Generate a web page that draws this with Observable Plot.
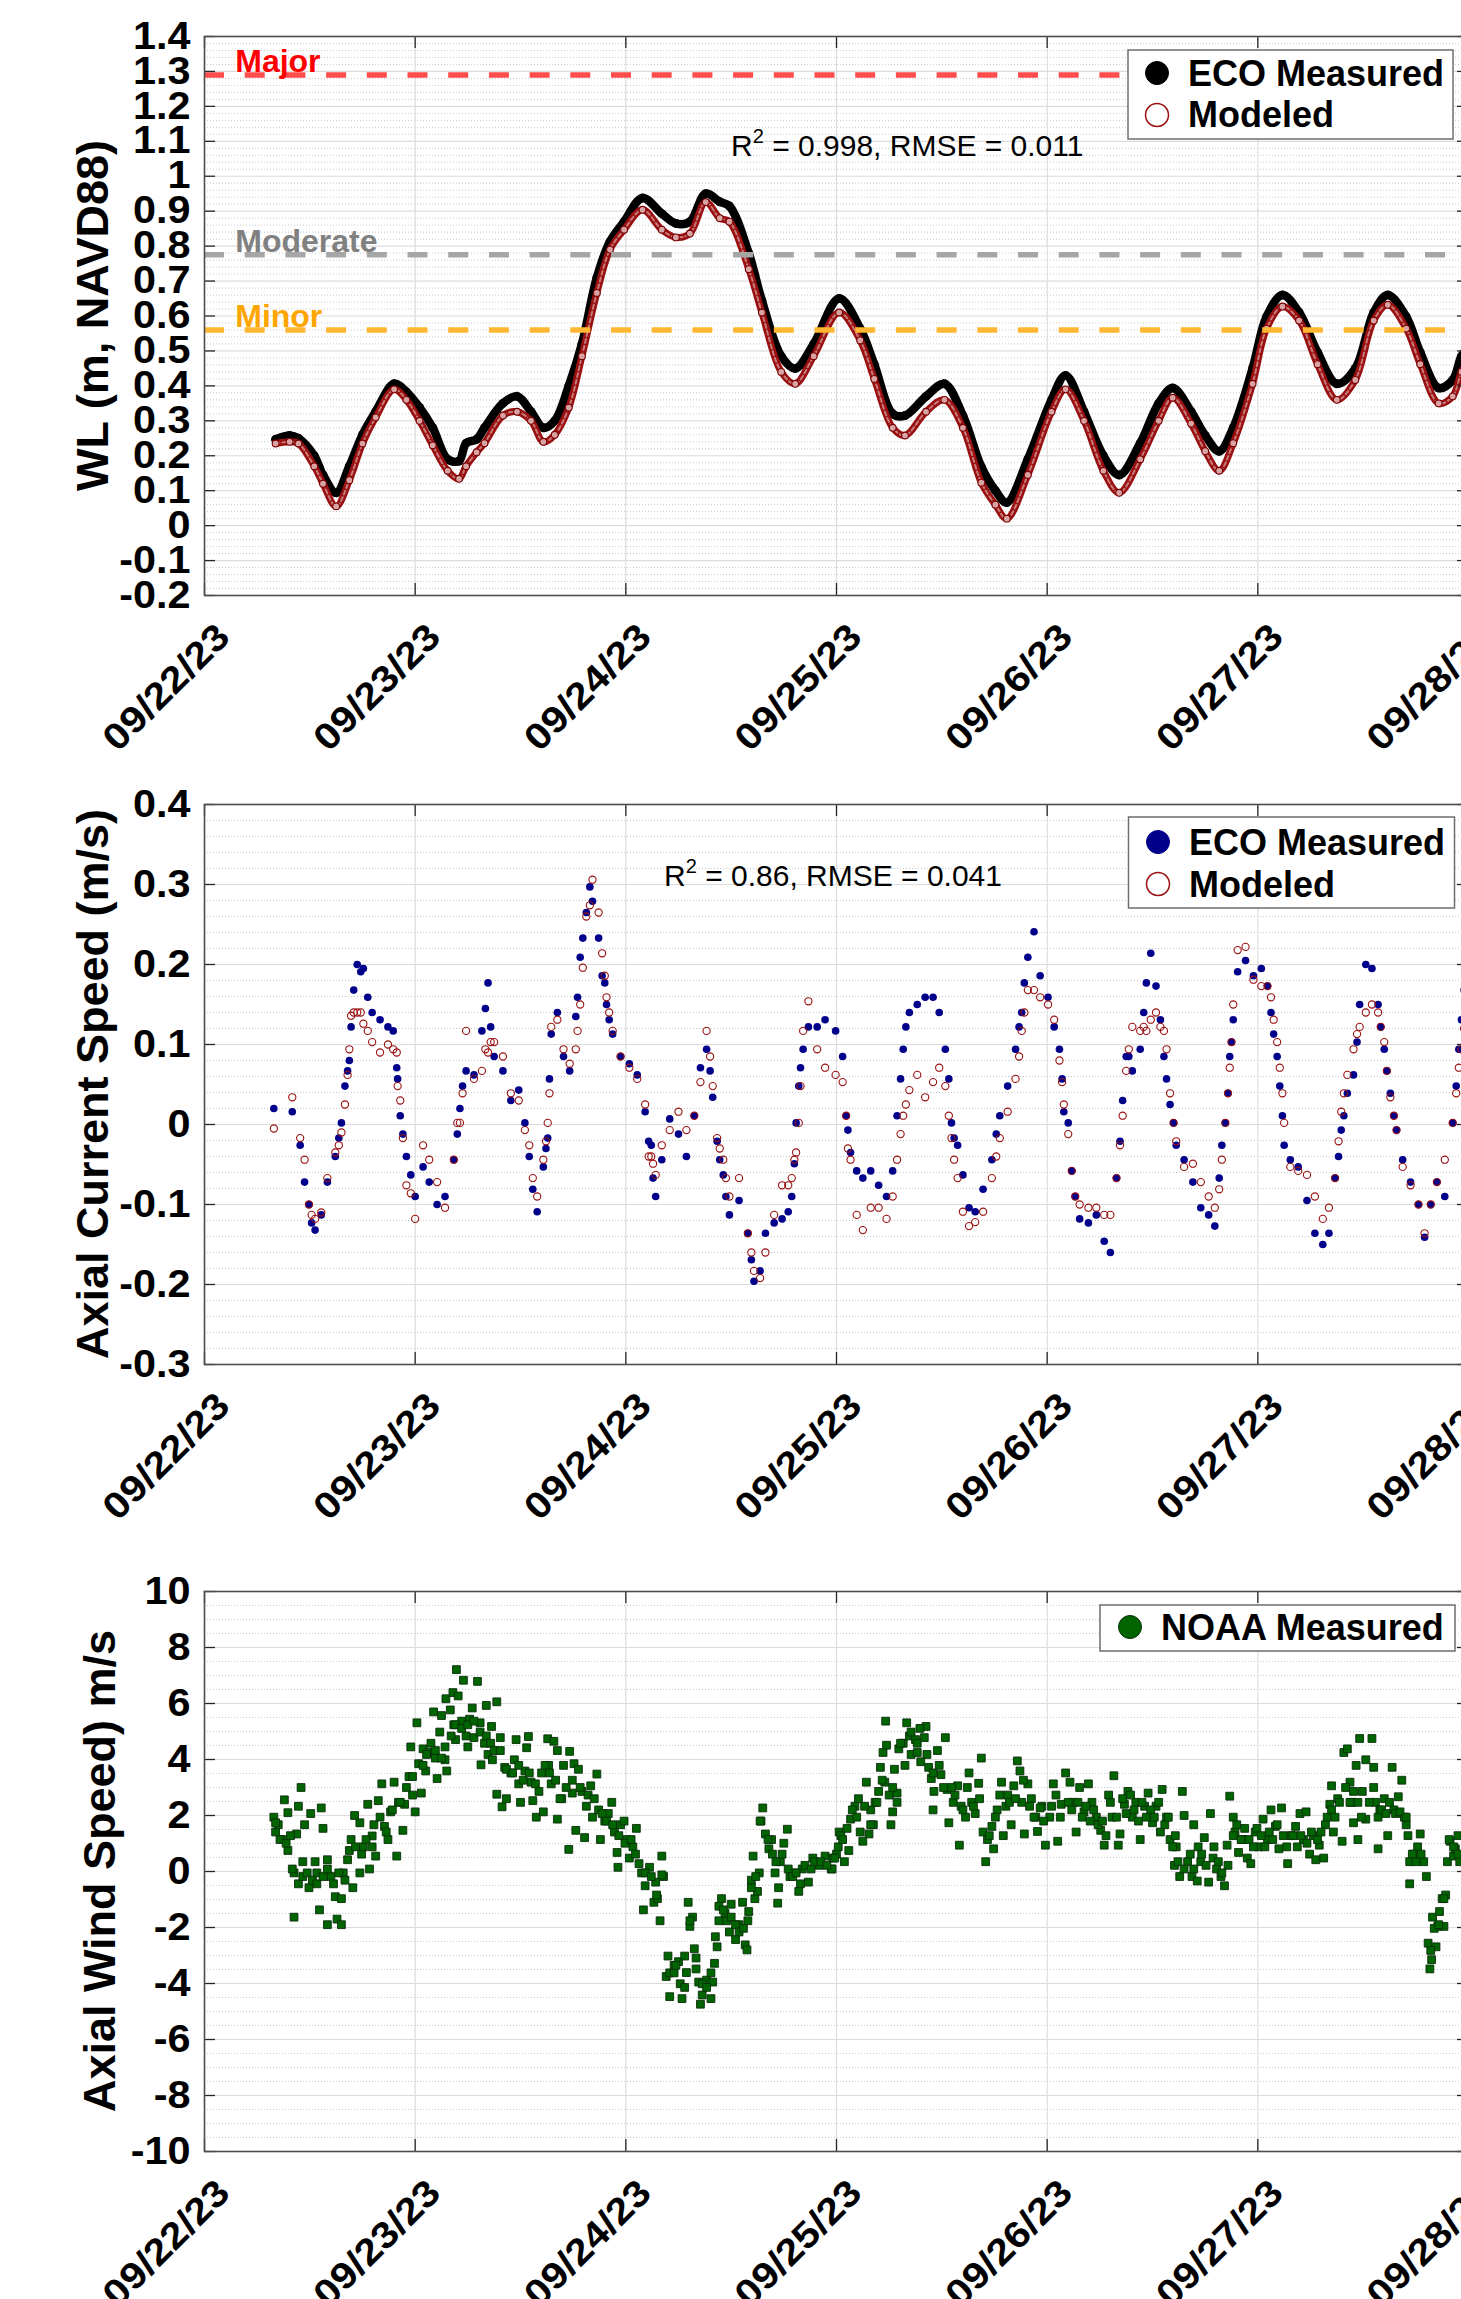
<!DOCTYPE html>
<html><head><meta charset="utf-8">
<script src="https://cdn.jsdelivr.net/npm/d3@7"></script>
<script src="https://cdn.jsdelivr.net/npm/@observablehq/plot@0.6"></script>
<style>
html,body{margin:0;padding:0;background:#fff;overflow:hidden;width:1461px;height:2299px;}
#wrap{position:relative;width:1461px;height:2299px;overflow:hidden;background:#fff;}
.panel{position:absolute;left:0;}
</style></head><body><div id="wrap"></div>
<script>
// ---------------- DATA (hours since 09/22/23 00:00) ----------------
const dayLabels = ["09/22/23","09/23/23","09/24/23","09/25/23","09/26/23","09/27/23","09/28/23"];
const wlTicks = [-0.2,-0.1,0,0.1,0.2,0.3,0.4,0.5,0.6,0.7,0.8,0.9,1,1.1,1.2,1.3,1.4];
const currentTicks = [-0.3,-0.2,-0.1,0,0.1,0.2,0.3,0.4];
const windTicks = [-10,-8,-6,-4,-2,0,2,4,6,8,10];

const thresholdNames = ["Major","Moderate","Minor"];
const thresholdLevels = [1.29, 0.775, 0.56];
const thresholdLineColors = ["#ff4d4d","#a6a6a6","#ffb733"];
const thresholdTextColors = ["#ff0000","#808080","#ffa500"];

const wlTime = [8.1,9.7,10.7,12.5,13.5,15.0,16.5,18.0,19.5,21.6,
 23.0,24.5,26.0,27.7,29.0,29.8,31.0,31.9,34.0,35.6,
 37.2,38.6,39.9,41.5,43.0,44.7,46.2,47.8,49.9,52.1,
 53.7,55.3,57.1,58.7,59.8,62.0,63.5,65.7,67.3,69.4,
 72.3,74.7,76.3,78.4,79.8,82.2,84.3,86.4,88.5,90.1,
 91.4,93.8,96.5,98.1,100.2,102.4,104.2,106.6,108.7,110.3,
 112.4,114.0,115.6,117.2,119.4,121.0,122.8,124.7,126.8,129.0,
 131.1,133.2,134.8,136.9,138.5,140.6,142.2,143.2,144.0];
const wlMeasured = [0.247,0.258,0.25,0.20,0.145,0.094,0.17,0.26,0.326,0.406,
 0.383,0.338,0.28,0.19,0.185,0.236,0.247,0.28,0.35,0.37,
 0.326,0.28,0.30,0.40,0.52,0.71,0.813,0.87,0.938,0.893,
 0.865,0.87,0.95,0.927,0.915,0.78,0.644,0.485,0.45,0.52,
 0.65,0.564,0.462,0.32,0.315,0.37,0.406,0.315,0.168,0.10,
 0.066,0.19,0.36,0.43,0.326,0.20,0.145,0.236,0.35,0.394,
 0.326,0.258,0.213,0.28,0.45,0.598,0.66,0.61,0.496,0.406,
 0.45,0.61,0.66,0.598,0.496,0.394,0.417,0.485,0.51];
const wlModeled = [0.235,0.24,0.235,0.17,0.12,0.055,0.13,0.235,0.31,0.39,
 0.36,0.30,0.23,0.157,0.134,0.17,0.21,0.236,0.315,0.326,
 0.30,0.24,0.26,0.338,0.485,0.666,0.79,0.847,0.904,0.847,
 0.825,0.836,0.926,0.88,0.87,0.734,0.61,0.44,0.406,0.485,
 0.61,0.53,0.42,0.28,0.258,0.326,0.36,0.28,0.123,0.06,
 0.02,0.145,0.326,0.39,0.30,0.157,0.094,0.19,0.30,0.366,
 0.292,0.213,0.157,0.236,0.406,0.564,0.627,0.587,0.462,0.36,
 0.417,0.587,0.632,0.564,0.462,0.35,0.37,0.44,0.47];

const curTime = [7.9,10.0,10.9,11.9,12.6,13.3,14.0,14.9,15.6,16.3,
 16.7,17.4,18.1,19.1,20.0,20.9,21.9,22.3,23.0,24.0,
 24.9,25.6,26.5,27.4,28.4,29.1,29.8,30.7,31.6,32.3,
 33.0,34.0,34.9,35.8,36.5,37.0,37.4,37.9,38.6,39.1,
 39.5,40.2,40.9,41.6,42.3,42.8,43.5,44.2,44.9,45.3,
 45.8,46.5,47.4,48.4,49.3,50.2,50.9,51.4,52.1,53.0,
 54.0,54.9,55.8,56.5,57.2,57.9,58.4,59.1,59.8,60.9,
 61.9,62.6,63.3,63.9,64.9,65.8,66.5,67.2,67.7,68.2,
 68.8,69.8,70.7,71.9,72.7,73.1,73.6,74.3,75.0,75.9,
 76.8,77.7,78.4,78.9,79.6,80.3,81.2,82.1,83.0,83.7,
 84.4,85.1,85.8,86.4,87.1,87.8,88.7,89.7,90.6,91.5,
 92.4,93.1,93.8,94.5,95.2,96.1,96.8,97.4,97.9,98.4,
 98.8,99.7,100.7,101.6,102.5,103.2,103.9,104.3,105.0,105.7,
 106.6,107.3,107.8,108.4,108.9,109.6,110.0,110.7,111.6,112.6,
 113.5,114.4,115.1,115.6,116.3,116.8,117.2,117.7,118.6,119.5,
 120.4,121.1,121.8,122.5,123.0,123.7,124.6,125.6,126.5,127.4,
 128.1,128.8,129.5,130.2,130.9,131.6,132.3,133.0,133.7,134.4,
 135.1,135.8,136.5,137.4,138.3,139.0,139.7,140.4,141.3,142.2,
 142.9,143.5,
 // additional readings
 11.4,12.2,15.3,16.0,16.5,17.0,17.8,18.6,21.5,22.0,
 22.6,23.5,28.8,29.4,32.0,32.6,38.9,39.3,42.5,43.1,
 43.9,45.6,46.1,50.6,51.1,57.6,58.7,59.4,62.3,66.9,
 67.4,67.9,73.3,79.3,79.9,84.8,85.4,90.2,92.8,93.4,
 97.7,99.2,104.6,105.3,107.0,109.3,110.4,115.9,116.6,117.0,
 121.5,122.2,122.8,129.2,129.8,131.3,134.0,134.7,135.5,142.6,
 143.2];
const curMeasured = [0.020,0.016,-0.026,-0.100,-0.132,-0.113,-0.072,-0.040,0.002,0.067,
 0.122,0.200,0.195,0.140,0.131,0.122,0.071,0.011,-0.040,-0.090,
 -0.053,-0.072,-0.100,-0.090,-0.044,0.020,0.067,0.062,0.117,0.177,
 0.085,0.067,0.030,0.043,0.002,-0.040,-0.081,-0.109,-0.053,-0.017,
 0.113,0.140,0.085,0.067,0.135,0.209,0.265,0.279,0.233,0.186,
 0.150,0.113,0.085,0.076,0.062,0.016,-0.026,-0.090,-0.044,0.007,
 -0.012,-0.040,0.011,0.071,0.094,0.034,-0.021,-0.063,-0.113,-0.095,
 -0.136,-0.196,-0.183,-0.136,-0.123,-0.118,-0.109,-0.049,0.048,0.094,
 0.122,0.122,0.131,0.117,0.085,0.011,-0.035,-0.058,-0.067,-0.058,
 -0.076,-0.090,-0.058,0.011,0.094,0.140,0.150,0.159,0.159,0.140,
 0.094,0.002,-0.026,-0.063,-0.104,-0.109,-0.081,-0.044,0.011,0.048,
 0.094,0.140,0.209,0.241,0.186,0.159,0.122,0.094,0.016,0.002,
 -0.058,-0.118,-0.123,-0.113,-0.146,-0.160,-0.067,-0.021,0.085,0.067,
 0.094,0.177,0.214,0.173,0.131,0.057,0.025,-0.026,-0.044,-0.072,
 -0.104,-0.113,-0.127,-0.067,0.002,0.085,0.131,0.191,0.205,0.186,
 0.195,0.173,0.113,0.048,-0.026,-0.044,-0.053,-0.095,-0.136,-0.150,
 -0.136,-0.067,-0.007,0.039,0.062,0.150,0.200,0.195,0.150,0.094,
 0.039,-0.007,-0.044,-0.072,-0.100,-0.141,-0.100,-0.072,-0.090,0.002,
 0.094,0.168,
 -0.072,-0.123,-0.017,0.048,0.080,0.168,0.191,0.159,0.117,0.057,
 -0.012,-0.063,-0.012,0.048,0.145,0.122,-0.030,0.057,0.159,0.233,
 0.297,0.177,0.131,-0.021,-0.067,0.067,-0.044,-0.090,-0.169,-0.090,
 0.002,0.071,-0.007,0.057,0.122,0.057,-0.017,-0.012,0.122,0.177,
 0.057,-0.090,0.030,0.085,0.140,0.085,0.002,-0.026,0.039,0.103,
 0.140,0.085,0.011,-0.040,0.011,0.103,0.122,0.067,0.011,0.048,
 0.131];
const curModeled = [-0.005,0.034,-0.017,-0.100,-0.118,-0.110,-0.067,-0.035,-0.010,0.062,
 0.136,0.140,0.126,0.103,0.090,0.100,0.090,0.030,-0.076,-0.118,
 -0.026,-0.044,-0.072,-0.104,-0.044,0.002,0.117,0.057,0.067,0.090,
 0.103,0.085,0.039,0.030,-0.007,-0.026,-0.067,-0.090,-0.044,0.002,
 0.122,0.131,0.094,0.076,0.094,0.150,0.260,0.306,0.265,0.214,
 0.159,0.117,0.085,0.071,0.057,0.025,-0.040,-0.063,-0.026,-0.007,
 0.016,-0.007,0.011,0.053,0.117,0.048,-0.017,-0.044,-0.090,-0.067,
 -0.136,-0.183,-0.192,-0.160,-0.113,-0.076,-0.076,-0.044,0.002,0.117,
 0.154,0.094,0.071,0.062,0.053,0.011,-0.044,-0.113,-0.132,-0.104,
 -0.104,-0.118,-0.090,-0.044,0.011,0.043,0.062,0.034,0.053,0.071,
 0.048,-0.017,-0.067,-0.109,-0.127,-0.122,-0.109,-0.067,-0.017,0.016,
 0.057,0.117,0.168,0.168,0.159,0.150,0.131,0.080,0.025,-0.012,
 -0.058,-0.100,-0.104,-0.104,-0.113,-0.113,-0.067,-0.026,0.067,0.122,
 0.117,0.117,0.131,0.140,0.122,0.094,0.039,-0.021,-0.053,-0.049,
 -0.072,-0.090,-0.104,-0.081,0.002,0.071,0.150,0.218,0.222,0.181,
 0.173,0.173,0.131,0.071,0.002,-0.053,-0.058,-0.063,-0.090,-0.118,
 -0.104,-0.067,0.016,0.062,0.094,0.122,0.140,0.150,0.140,0.103,
 0.034,-0.007,-0.053,-0.076,-0.100,-0.136,-0.100,-0.072,-0.044,0.002,
 0.071,0.120,
 -0.044,-0.113,-0.026,0.025,0.094,0.140,0.140,0.117,0.094,0.048,
 -0.017,-0.086,0.002,0.039,0.094,0.103,-0.021,0.039,0.117,0.196,
 0.274,0.186,0.140,-0.040,-0.049,0.085,-0.030,-0.067,-0.160,-0.067,
 -0.035,0.048,-0.030,-0.012,0.025,0.011,-0.044,-0.040,0.085,0.140,
 0.053,-0.090,0.011,0.094,0.122,0.117,0.002,-0.044,0.039,0.103,
 0.159,0.103,0.039,-0.021,0.039,0.113,0.122,0.067,0.011,0.039,
 0.094];

const windTime = [7.9,8.1,8.4,9.1,9.1,9.5,9.5,10.2,10.2,10.5,
 10.7,11.0,11.2,11.4,11.9,12.1,12.6,12.8,13.1,13.3,
 13.5,14.0,14.0,14.4,14.9,15.1,15.6,15.6,15.8,16.3,
 16.7,16.9,17.1,17.7,17.7,18.1,18.6,18.8,19.1,19.5,
 19.8,20.2,20.5,20.9,21.2,21.6,21.9,22.1,22.6,22.8,
 23.3,23.5,23.7,24.0,24.2,24.4,24.7,24.9,25.2,25.6,
 26.1,26.3,26.5,26.8,27.0,27.4,27.5,27.6,28.0,28.3,
 28.4,28.6,28.7,28.9,29.3,29.5,29.8,30.0,30.2,30.5,
 30.7,31.1,31.4,31.5,31.9,32.1,32.3,32.7,32.8,33.3,
 33.3,33.7,33.9,34.2,34.4,34.9,35.3,35.5,35.8,36.0,
 36.5,36.7,36.9,37.2,37.4,37.8,38.1,38.6,39.1,39.2,
 39.5,39.8,40.2,40.2,40.7,40.9,41.5,41.6,41.9,42.1,
 42.3,42.6,43.0,43.3,43.5,44.0,44.2,44.7,44.9,45.1,
 45.6,46.0,46.4,46.7,47.0,47.1,47.4,47.8,48.1,48.4,
 48.8,49.2,49.5,49.8,50.0,50.2,50.7,51.2,51.4,51.6,
 51.9,52.1,52.3,52.6,52.8,53.0,53.5,54.0,54.2,54.4,
 54.7,54.9,55.1,55.3,55.6,55.8,56.0,56.3,56.5,56.7,
 57.2,57.7,57.9,58.1,58.2,58.4,58.6,58.9,59.3,59.8,
 60.0,60.5,60.9,61.3,61.6,61.8,62.0,62.3,62.5,62.7,
 63.0,63.2,63.4,63.6,63.9,64.3,64.6,65.0,65.3,65.4,
 65.6,66.0,66.4,66.7,67.2,67.7,68.1,68.8,69.3,70.0,
 70.7,71.4,72.0,72.3,71.5,72.5,72.9,73.4,73.6,74.1,
 74.5,74.7,75.0,75.4,75.7,75.9,76.2,76.4,76.8,77.0,
 77.3,77.5,77.6,77.7,78.0,78.2,78.4,78.6,78.9,79.1,
 79.6,79.8,80.0,80.3,80.5,81.0,81.2,81.6,82.0,82.2,
 82.5,82.8,83.0,83.1,83.5,83.9,84.4,84.6,84.8,85.3,
 85.8,86.0,86.2,86.7,87.1,87.4,87.8,88.2,88.5,88.7,
 89.0,89.2,89.7,89.9,90.3,90.8,91.0,91.5,91.9,92.2,
 92.6,92.9,93.1,93.4,93.8,94.2,94.7,94.9,95.4,95.8,
 96.3,96.7,97.2,97.6,98.1,98.6,99.0,99.3,99.7,100.2,
 100.7,101.1,101.6,102.1,102.5,103.0,103.4,103.6,104.1,104.3,
 104.8,105.2,105.7,106.1,106.6,107.1,107.5,108.0,108.4,108.9,
 109.1,109.6,110.0,110.5,110.7,111.1,111.4,111.6,112.0,112.5,
 112.7,113.1,113.5,113.9,114.4,114.6,114.9,115.3,115.8,116.2,
 116.5,116.8,117.2,117.4,117.8,118.3,118.8,119.2,119.7,120.1,
 120.6,121.1,121.5,122.0,122.4,122.7,123.4,123.8,124.3,124.8,
 125.2,125.5,125.9,126.3,126.6,127.0,127.5,127.7,128.2,128.4,
 128.6,129.1,129.6,129.8,130.2,130.5,130.7,130.9,131.2,131.4,
 131.6,131.9,132.3,132.3,133.0,133.2,133.4,133.7,133.9,134.4,
 134.8,135.3,135.5,136.0,136.4,136.7,136.9,137.1,137.3,137.3,
 137.8,138.2,138.5,138.9,139.4,139.6,139.8,139.9,140.3,140.5,
 140.7,141.0,141.2,141.4,141.6,141.9,142.3,142.5,142.8,143.0];
const windSpeed = [1.94,1.41,1.67,2.56,1.14,2.10,0.75,-1.63,-0.05,1.34,
 2.33,3.0,0.35,1.67,-0.58,2.07,0.35,-0.05,-1.37,2.27,
 1.54,-1.9,0.42,-0.18,-0.9,-1.7,-1.9,-0.97,-0.05,0.42,
 1.14,-0.58,2.0,-0.05,1.74,0.88,2.4,0.09,1.27,0.55,
 2.53,3.13,1.61,1.14,2.13,3.19,0.55,2.47,1.47,2.4,
 3.39,4.45,2.73,2.13,5.31,3.85,2.8,4.38,3.59,4.25,
 5.70,4.05,3.32,4.98,5.57,3.99,6.17,3.59,5.77,6.39,
 5.24,4.71,7.21,6.27,5.37,6.83,4.84,4.45,5.44,5.84,
 4.78,6.79,5.31,3.81,4.58,5.93,4.18,5.18,3.99,6.06,
 2.76,4.78,2.31,3.72,2.6,3.52,3.99,4.71,3.13,2.47,
 3.59,4.42,4.82,3.19,2.53,1.94,2.86,2.13,4.74,3.79,
 3.13,4.65,1.87,4.32,2.6,3.79,0.79,4.29,2.8,3.85,
 1.47,3.65,2.86,1.21,2.33,3.06,1.94,3.48,2.2,1.14,
 1.8,2.07,2.47,1.41,0.68,0.15,1.67,1.8,1.14,0.48,
 0.88,1.54,0.28,-0.05,-1.37,-0.51,0.15,-1.1,-0.38,-0.97,
 -1.76,0.55,-0.18,-3.75,-3.02,-4.47,-3.35,-3.22,-4.01,-4.54,
 -3.02,-3.61,-1.1,-1.96,-1.63,-2.76,-3.48,-3.95,-4.74,-4.41,
 -3.88,-4.54,-3.95,-3.28,-2.33,-2.69,-1.76,-0.97,-1.5,-2.16,
 -1.17,-2.43,-1.9,-1.1,-2.62,-2.8,-1.43,-0.31,0.55,-0.97,
 -0.71,-0.05,1.8,2.27,1.34,0.81,1.14,-0.05,-1.13,-0.58,
 0.35,1.01,1.51,-0.18,-0.05,-0.71,0.09,-0.38,0.48,0.22,
 0.55,0.09,0.62,1.41,0.09,1.28,0.35,0.75,1.87,2.33,
 2.6,1.41,1.08,3.19,1.34,2.2,1.67,2.47,2.86,3.72,
 4.25,3.19,5.37,4.51,2.73,1.67,2.13,3.65,2.8,4.38,
 4.58,3.79,5.31,4.84,4.18,4.71,4.25,3.92,4.78,5.18,
 3.72,3.32,2.2,2.86,4.32,3.46,4.78,2.93,1.74,2.47,
 3.06,0.94,2.33,1.94,3.52,2.47,2.07,3.15,4.05,1.41,
 0.35,1.14,1.61,0.81,2.2,3.19,1.28,2.73,1.67,3.06,
 3.95,3.59,2.47,1.34,3.13,2.6,1.94,1.43,2.33,0.94,
 1.94,3.13,1.08,2.4,3.52,3.19,2.47,1.41,3.0,2.13,
 3.13,2.47,1.94,1.47,0.94,2.73,1.94,3.42,0.94,1.34,
 2.4,2.86,1.94,2.47,1.14,2.33,2.8,1.74,2.33,1.41,
 2.93,1.94,1.14,0.22,0.88,-0.18,2.86,2.0,0.35,-0.18,
 1.67,-0.34,0.35,1.21,-0.38,2.07,0.48,0.09,-0.18,-0.51,
 0.94,2.69,1.94,1.41,0.68,1.14,0.48,0.28,1.41,0.88,
 1.87,1.14,2.2,1.61,0.81,2.27,0.28,1.28,1.61,2.07,
 1.14,2.13,0.62,1.28,0.42,0.94,0.48,1.67,2.4,3.06,
 1.41,2.6,1.08,4.25,4.38,3.19,2.47,1.74,3.79,1.14,
 4.75,2.86,3.99,1.87,4.75,3.72,2.47,0.81,2.2,2.6,
 1.28,3.72,2.2,2.67,3.26,1.94,1.67,1.28,-0.44,0.35,
 0.62,0.88,1.34,0.35,-2.56,-3.48,-3.15,-1.63,-2.69,-1.96,
 -1.43,-0.97,-1.96,-0.84,0.35,1.08,0.55,0.81,1.28,0.35];
// second pass of readings
const windTimeB = [8.1,8.6,9.3,9.8,10.0,10.7,11.2,11.7,12.3,12.8,
 13.5,14.0,14.7,15.3,16.0,16.5,17.2,17.9,18.4,19.1,
 19.3,20.0,20.7,21.4,22.3,23.0,23.7,24.9,25.3,25.8,
 26.3,27.0,27.4,28.1,28.6,29.3,30.0,30.7,31.4,32.1,
 32.6,33.0,33.7,34.4,35.1,35.8,36.3,37.0,37.7,38.4,
 38.8,39.3,40.0,40.5,41.2,41.9,42.8,43.7,44.4,45.3,
 45.8,46.5,47.2,47.9,48.6,49.1,50.2,50.9,51.5,52.1,
 53.0,53.5,53.7,54.7,55.3,56.0,56.7,57.2,57.7,58.6,
 59.1,59.5,60.0,60.5,60.9,61.4,61.9,62.3,62.8,63.3,
 64.2,64.7,65.1,65.8,66.5,67.0,67.4,67.9,68.4,69.1,
 69.5,70.2,70.9,71.6,71.8,72.2,72.7,73.2,73.8,74.3,
 75.2,75.9,76.6,77.2,78.4,78.9,79.3,80.5,81.2,81.5,
 82.3,83.0,83.7,84.2,85.1,85.5,86.4,86.9,87.6,88.3,
 89.4,90.1,90.6,91.3,91.7,92.4,93.3,94.0,94.5,95.2,
 95.6,96.5,97.0,97.5,98.4,98.8,99.5,100.0,100.4,100.9,
 101.3,101.8,102.3,102.7,103.2,103.9,104.6,105.0,105.5,105.9,
 106.4,106.8,107.3,107.8,108.2,108.7,109.4,109.8,110.3,110.6,
 110.9,111.6,112.3,112.7,113.2,113.6,114.1,115.0,115.5,115.9,
 116.6,117.2,117.6,118.1,118.5,119.0,119.5,119.9,120.4,120.8,
 121.3,121.7,122.2,122.9,123.3,124.0,124.5,124.9,125.6,126.1,
 126.8,127.2,127.9,128.4,128.8,129.3,130.0,130.5,130.9,131.4,
 131.8,132.7,133.2,133.7,134.1,134.6,135.0,135.7,136.2,136.9,
 137.6,138.0,138.6,139.2,139.7,140.1,140.6,141.2,141.8,142.3,
 142.8];
const windSpeedB = [1.74,1.14,1.01,1.28,0.09,-0.44,-0.18,-0.05,-0.31,-0.44,
 -0.18,0.09,-0.44,-0.05,-0.31,0.75,0.88,0.62,1.14,0.88,
 1.67,1.94,1.41,2.2,2.47,3.0,3.39,3.79,4.18,4.58,
 4.32,4.05,4.45,4.84,5.24,5.11,5.24,5.37,4.98,4.84,
 4.58,4.32,4.32,3.65,3.52,3.79,3.26,3.52,3.13,3.52,
 3.79,3.52,3.26,2.6,3.0,3.26,3.0,2.73,2.6,2.07,
 1.8,1.67,1.28,1.01,1.14,0.62,-0.05,-0.18,-0.84,-0.12,
 -3.62,-3.62,-3.35,-4.14,-1.76,-3.09,-4.01,-4.14,-3.62,-1.24,
 -1.37,-1.76,-1.63,-1.9,-2.16,-2.03,-1.76,-0.58,-0.18,1.8,
 1.14,0.62,0.35,0.62,0.09,-0.18,-0.05,-0.44,0.22,0.09,
 0.35,0.35,0.22,0.48,0.48,0.88,1.14,1.54,2.2,1.94,
 2.33,1.67,2.47,3.26,3.0,2.47,4.58,4.98,4.58,5.11,
 4.18,3.52,3.79,3.0,3.0,2.73,2.2,3.0,2.33,2.6,
 1.28,1.94,2.73,2.33,2.47,2.6,3.26,2.33,1.94,2.27,
 1.8,2.33,2.73,1.94,2.47,2.2,2.47,1.94,2.33,1.8,
 2.2,1.67,1.8,1.28,2.47,1.94,2.6,2.07,2.73,2.2,
 1.8,2.47,1.94,2.2,1.94,2.47,1.67,1.94,0.88,1.28,
 0.35,0.09,0.62,0.09,0.88,0.62,0.22,0.88,0.35,-0.05,
 0.22,1.28,1.67,1.14,1.54,1.14,0.88,1.54,1.28,0.88,
 1.41,1.14,1.67,1.28,0.88,1.28,0.88,1.28,1.01,1.41,
 1.14,1.41,1.94,2.2,1.94,2.47,3.0,2.47,2.86,2.47,
 1.94,2.47,3.0,1.94,2.2,2.07,2.47,2.07,2.13,1.94,
 0.62,0.35,0.62,-0.18,-2.82,-2.03,-1.9,-0.97,1.14,0.88,
 0.62];

// ---------------- helpers ----------------
const FONT = "'Liberation Sans', Arial, Helvetica, sans-serif";
const T0 = Date.UTC(2023, 8, 22);
const toDate = h => new Date(T0 + h * 3600e3);
const dayTicks = dayLabels.map((_, i) => toDate(24 * i));
const fmtDay = d => dayLabels[Math.round((d - T0) / 864e5)];
const fmtNum = d => String(Math.round(d * 100) / 100);
const W = 1472, ML = 204, MR = 4, MT = 50, MB = 190;
const PW = W - ML - MR;
const wrap = document.getElementById("wrap");

function minorTicks(lo, hi, step, majors) {
  const n = Math.round((hi - lo) / step);
  const out = [];
  for (let i = 0; i <= n; i++) {
    const v = Math.round((lo + i * step) * 1000) / 1000;
    if (!majors.some(m => Math.abs(m - v) < 1e-9)) out.push(v);
  }
  return out;
}

function panel(cfg) {
  const PH = cfg.ph;
  const svg = Plot.plot({
    width: W, height: MT + PH + MB,
    marginLeft: ML, marginRight: MR, marginTop: MT, marginBottom: MB,
    style: {background: "transparent", maxWidth: "none", overflow: "visible", fontFamily: FONT},
    x: {type: "utc", domain: [dayTicks[0], dayTicks[6]]},
    y: {domain: cfg.domain},
    marks: [
      Plot.gridY(cfg.minor, {stroke: "#c8c8c8", strokeOpacity: 1, strokeWidth: 1, strokeDasharray: "1,2"}),
      Plot.gridY(cfg.ticks, {stroke: "#dcdcdc", strokeOpacity: 1, strokeWidth: 1.2}),
      Plot.gridX(dayTicks, {stroke: "#dcdcdc", strokeOpacity: 1, strokeWidth: 1.2}),
      ...cfg.marks,
      Plot.tickY(cfg.ticks, {y: d => d, insetRight: PW - 11, stroke: "#262626", strokeWidth: 1.3}),
      Plot.tickY(cfg.ticks, {y: d => d, insetLeft: PW - 11, stroke: "#262626", strokeWidth: 1.3}),
      Plot.tickX(dayTicks, {x: d => d, insetBottom: PH - 12, stroke: "#262626", strokeWidth: 1.3}),
      Plot.tickX(dayTicks, {x: d => d, insetTop: PH - 12, stroke: "#262626", strokeWidth: 1.3}),
      Plot.frame({stroke: "#4d4d4d", strokeWidth: 1.6}),
      Plot.axisY(cfg.ticks, {tickSize: 0, tickPadding: 14, fontSize: 38, fontWeight: "bold", tickFormat: fmtNum, label: null, fill: "#000"}),
      Plot.axisX(dayTicks, {tickSize: 0, tickPadding: 10, tickRotate: -45, dx: 19, dy: 25, fontSize: 37, fontWeight: "bold", tickFormat: fmtDay, label: null, fill: "#000"})
    ]
  });
  const div = document.createElement("div");
  div.className = "panel";
  div.style.top = (cfg.axisTop - MT) + "px";
  div.appendChild(svg);
  wrap.appendChild(div);
  const s = d3.select(svg);
  s.selectAll('g[aria-label="y-axis tick label"] text').each(function () {
    const e = d3.select(this);
    const tr = e.attr("transform");
    if (tr) e.attr("transform", tr + " scale(1.09,1)");
  });
  s.selectAll('g[aria-label="x-axis tick label"] text').each(function () {
    const e = d3.select(this);
    const tr = e.attr("transform");
    if (tr) e.attr("transform", tr + " scale(1.12,1)");
  });
  const g = s.append("g").attr("transform", `translate(0,${-(cfg.axisTop - MT)})`)
    .attr("font-family", FONT).attr("text-anchor", "start");
  g.append("text").attr("transform", `translate(${cfg.labelX},${cfg.axisTop + PH / 2}) rotate(-90)`)
    .attr("text-anchor", "middle").attr("font-size", 45).attr("font-weight", "bold").attr("fill", "#000").text(cfg.ylabel);
  if (cfg.note) {
    const t = g.append("text").attr("x", cfg.note.x).attr("y", cfg.note.y).attr("font-size", 30).attr("fill", "#000").attr("text-anchor", "start");
    t.append("tspan").text("R");
    t.append("tspan").attr("font-size", 20).attr("dy", -13).text("2");
    t.append("tspan").attr("dy", 13).text(cfg.note.text);
  }
  const L = cfg.legend;
  g.append("rect").attr("x", L.box[0]).attr("y", L.box[1]).attr("width", L.box[2]).attr("height", L.box[3])
    .attr("fill", "#fff").attr("stroke", "#6e6e6e").attr("stroke-width", 1.5);
  L.items.forEach(it => {
    g.append("circle").attr("cx", it.mx).attr("cy", it.my).attr("r", 11.5)
      .attr("fill", it.fill).attr("stroke", it.stroke).attr("stroke-width", it.sw);
    g.append("text").attr("x", it.tx).attr("y", it.ty).attr("text-anchor", "start").attr("font-size", 36)
      .attr("font-weight", "bold").attr("fill", "#000").text(it.label);
  });
  return svg;
}

// ---------------- rows ----------------
const wlRows = wlTime.map((t, i) => ({date: toDate(t), measured: wlMeasured[i], modeled: wlModeled[i]}));
const curRows = curTime.map((t, i) => ({date: toDate(t), measured: curMeasured[i], modeled: curModeled[i]}));
const windRows = windTime.map((t, i) => ({date: toDate(t), speed: windSpeed[i]}))
  .concat(windTimeB.map((t, i) => ({date: toDate(t), speed: windSpeedB[i]})));
const thrRows = thresholdNames.map((n, i) => ({name: n, level: thresholdLevels[i], line: thresholdLineColors[i], text: thresholdTextColors[i], date: toDate(3.5)}));

const DARKRED = "#9a1010", NAVY = "#00008b", GREEN = "#006400";

panel({
  axisTop: 36, ph: 559, domain: [-0.2, 1.4], ticks: wlTicks,
  minor: minorTicks(-0.2, 1.4, 0.02, wlTicks),
  labelX: 108, ylabel: "WL (m, NAVD88)",
  note: {x: 731, y: 156, text: " = 0.998, RMSE = 0.011"},
  legend: {box: [1128, 50, 325, 89], items: [
    {mx: 1157, my: 73, fill: "#000", stroke: "#000", sw: 1, tx: 1188, ty: 86, label: "ECO Measured"},
    {mx: 1157, my: 115, fill: "#fff", stroke: DARKRED, sw: 1.5, tx: 1188, ty: 127, label: "Modeled"}]},
  marks: [
    Plot.line(wlRows, {x: "date", y: "measured", stroke: "#000", strokeWidth: 8.5, curve: "catmull-rom"}),
    Plot.dot(wlRows, {x: "date", y: "measured", r: 4.5, fill: "#000"}),
    Plot.line(wlRows, {x: "date", y: "modeled", stroke: DARKRED, strokeWidth: 7, curve: "catmull-rom"}),
    Plot.line(wlRows, {x: "date", y: "modeled", stroke: "#c77a7a", strokeWidth: 2, strokeDasharray: "4,3", curve: "catmull-rom"}),
    Plot.dot(wlRows, {x: "date", y: "modeled", r: 3.4, fill: "#d9a3a3", stroke: "#7a0000", strokeWidth: 1.1}),
    ...thrRows.map(r => Plot.ruleY([r.level], {stroke: r.line, strokeWidth: 5.5, strokeDasharray: "20,20.7"})),
    Plot.text(thrRows, {x: "date", y: "level", text: "name", fill: "text", textAnchor: "start", lineAnchor: "bottom", dy: -3, fontSize: 32, fontWeight: "bold"})
  ]
});

panel({
  axisTop: 804, ph: 560, domain: [-0.3, 0.4], ticks: currentTicks,
  minor: minorTicks(-0.3, 0.4, 0.02, currentTicks),
  labelX: 108, ylabel: "Axial Current Speed (m/s)",
  note: {x: 664, y: 886, text: " = 0.86, RMSE = 0.041"},
  legend: {box: [1128.5, 817, 326, 91], items: [
    {mx: 1158, my: 842, fill: NAVY, stroke: NAVY, sw: 1, tx: 1189, ty: 855, label: "ECO Measured"},
    {mx: 1158, my: 884, fill: "#fff", stroke: DARKRED, sw: 1.5, tx: 1189, ty: 897, label: "Modeled"}]},
  marks: [
    Plot.dot(curRows, {x: "date", y: "measured", r: 3.8, fill: NAVY}),
    Plot.dot(curRows, {x: "date", y: "modeled", r: 3.6, fill: "none", stroke: DARKRED, strokeWidth: 1.1})
  ]
});

panel({
  axisTop: 1591, ph: 560, domain: [-10, 10], ticks: windTicks,
  minor: minorTicks(-10, 10, 0.5, windTicks),
  labelX: 115, ylabel: "Axial Wind Speed) m/s",
  note: null,
  legend: {box: [1100, 1605, 355, 46], items: [
    {mx: 1130, my: 1627, fill: GREEN, stroke: "#0b2e0b", sw: 1, tx: 1161, ty: 1640, label: "NOAA Measured"}]},
  marks: [
    Plot.dot(windRows, {x: "date", y: "speed", symbol: "square", r: 4.4, fill: GREEN, stroke: "#0b2e0b", strokeWidth: 0.9})
  ]
});
</script></body></html>
